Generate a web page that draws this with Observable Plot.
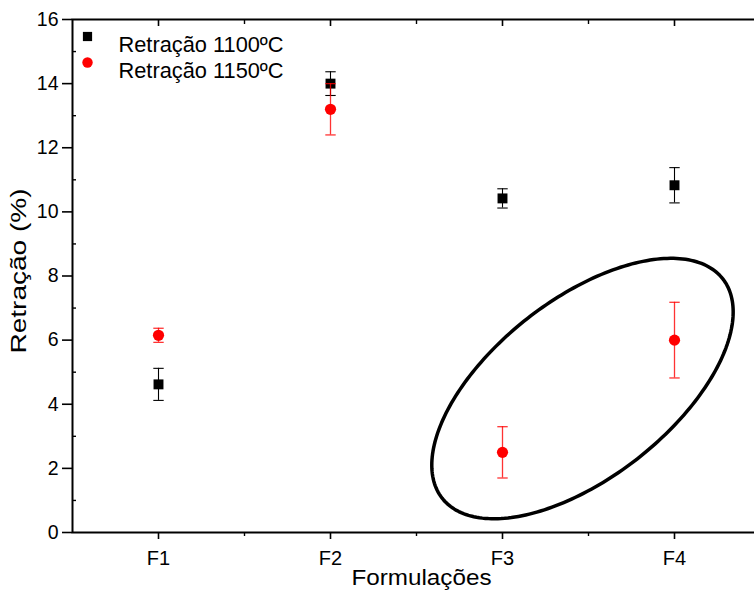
<!DOCTYPE html>
<html>
<head>
<meta charset="utf-8">
<script src="https://cdn.jsdelivr.net/npm/d3@7"></script>
<script src="https://cdn.jsdelivr.net/npm/@observablehq/plot@0.6"></script>
<style>
  html, body { margin: 0; padding: 0; background: #fff; }
  #chart { width: 754px; height: 594px; overflow: hidden; }
</style>
</head>
<body>
<div id="chart"></div>
<script>
// ---- data ----
const formulations = ["F1", "F2", "F3", "F4"];
const retracao1100 = [4.62, 14.0, 10.42, 10.83];
const erro1100     = [0.50, 0.37, 0.30, 0.55];
const retracao1150 = [6.15, 13.2, 2.50, 6.00];
const erro1150     = [0.22, 0.80, 0.80, 1.18];
const seriesNames  = ["Retração 1100ºC", "Retração 1150ºC"];
const yTicks = [0, 2, 4, 6, 8, 10, 12, 14, 16];
const yMinorTicks = [1, 3, 5, 7, 9, 11, 13, 15];
const xTitle = "Formulações";
const yTitle = "Retração (%)";
// annotation ellipse (data units): centre, semi-major vector, semi-minor vector
const ellipseCenter = [3.465, 4.49];
const ellipseMajor  = [0.816, 3.42];
const ellipseMinor  = [0.319, -2.19];

// ---- tables built from the arrays ----
const pos = formulations.map((f, i) => i + 1);
const s1100 = formulations.map((f, i) => ({x: pos[i], v: retracao1100[i], e: erro1100[i]}));
const s1150 = formulations.map((f, i) => ({x: pos[i], v: retracao1150[i], e: erro1150[i]}));
const xMinor = pos.slice(0, -1).map(p => p + 0.5);
const ellipse = d3.range(0, 241).map(k => {
  const t = (k / 240) * 2 * Math.PI;
  return {
    x: ellipseCenter[0] + ellipseMajor[0] * Math.cos(t) + ellipseMinor[0] * Math.sin(t),
    y: ellipseCenter[1] + ellipseMajor[1] * Math.cos(t) + ellipseMinor[1] * Math.sin(t)
  };
});

const capSymbol = {
  draw(ctx, size) {
    const w = Math.sqrt(size / Math.PI);
    ctx.moveTo(-w, 0);
    ctx.lineTo(w, 0);
  }
};

function errorMarks(data, color, opacity, width) {
  return [
    Plot.ruleX(data, {x: "x", y1: d => d.v - d.e, y2: d => d.v + d.e, stroke: color, strokeOpacity: opacity, strokeWidth: width}),
    Plot.dot(data, {x: "x", y: d => d.v - d.e, symbol: capSymbol, r: 5.2, fill: "none", stroke: color, strokeOpacity: opacity, strokeWidth: width}),
    Plot.dot(data, {x: "x", y: d => d.v + d.e, symbol: capSymbol, r: 5.2, fill: "none", stroke: color, strokeOpacity: opacity, strokeWidth: width})
  ];
}

const chart = Plot.plot({
  width: 754,
  height: 594,
  marginLeft: 72,
  marginTop: 19,
  marginBottom: 62,
  marginRight: -6,
  style: {fontFamily: "'Liberation Sans', Arial, sans-serif", background: "#fff", color: "#000", overflow: "hidden"},
  x: {domain: [0.5, 4.5]},
  y: {domain: [0, 16]},
  marks: [
    // axes
    Plot.axisY({ticks: yTicks, tickSize: 10, tickPadding: 4, fontSize: 19.5, tickFormat: d => String(d), label: null, strokeWidth: 1.6}),
    Plot.axisY({ticks: yMinorTicks, tickSize: -4, tickFormat: () => "", label: null, strokeWidth: 1.4}),
    Plot.axisX({ticks: pos, tickSize: 7, tickPadding: 11, fontSize: 20, tickFormat: d => formulations[d - 1], label: null, strokeWidth: 1.6}),
    Plot.axisX({ticks: xMinor, tickSize: 4, tickFormat: () => "", label: null, strokeWidth: 1.4}),
    Plot.axisX({anchor: "top", ticks: pos, tickSize: -6, tickFormat: () => "", label: null, strokeWidth: 1.6}),
    Plot.axisX({anchor: "top", ticks: xMinor, tickSize: -4, tickFormat: () => "", label: null, strokeWidth: 1.4}),
    Plot.frame({stroke: "#000", strokeWidth: 2}),
    // axis titles
    Plot.text([xTitle], {text: d => d, frameAnchor: "bottom", dx: 5, dy: 52, fontSize: 22, className: "xtitle"}),
    Plot.text([yTitle], {text: d => d, frameAnchor: "left", textAnchor: "middle", dx: -53, dy: -5, rotate: -90, fontSize: 21.5, className: "ytitle"}),
    // annotation ellipse
    Plot.line(ellipse, {x: "x", y: "y", stroke: "#000", strokeWidth: 3.5, curve: "linear"}),
    // series 1100
    ...errorMarks(s1100, "#000", 1, 1.1),
    Plot.dot(s1100, {x: "x", y: "v", symbol: "square", r: 5.6, fill: "#000"}),
    // series 1150
    ...errorMarks(s1150, "#ff0000", 0.8, 1.3),
    Plot.dot(s1150, {x: "x", y: "v", symbol: "circle", r: 5.6, fill: "#ff0000"}),
    // legend
    Plot.dot([seriesNames[0]], {frameAnchor: "top-left", dx: 15, dy: 17, symbol: "square", r: 5.2, fill: "#000"}),
    Plot.dot([seriesNames[1]], {frameAnchor: "top-left", dx: 15, dy: 43, symbol: "circle", r: 5.2, fill: "#ff0000"}),
    Plot.text([seriesNames[0]], {text: d => d, frameAnchor: "top-left", dx: 46, dy: 17, textAnchor: "start", fontSize: 21.8}),
    Plot.text([seriesNames[1]], {text: d => d, frameAnchor: "top-left", dx: 46, dy: 43, textAnchor: "start", fontSize: 21.8})
  ]
});
// stretch the axis titles along their length to match the reference proportions
d3.select(chart).selectAll(".xtitle text").attr("textLength", 140).attr("lengthAdjust", "spacingAndGlyphs");
d3.select(chart).selectAll(".ytitle text").attr("textLength", 165).attr("lengthAdjust", "spacingAndGlyphs");
document.getElementById("chart").append(chart);
</script>
</body>
</html>
